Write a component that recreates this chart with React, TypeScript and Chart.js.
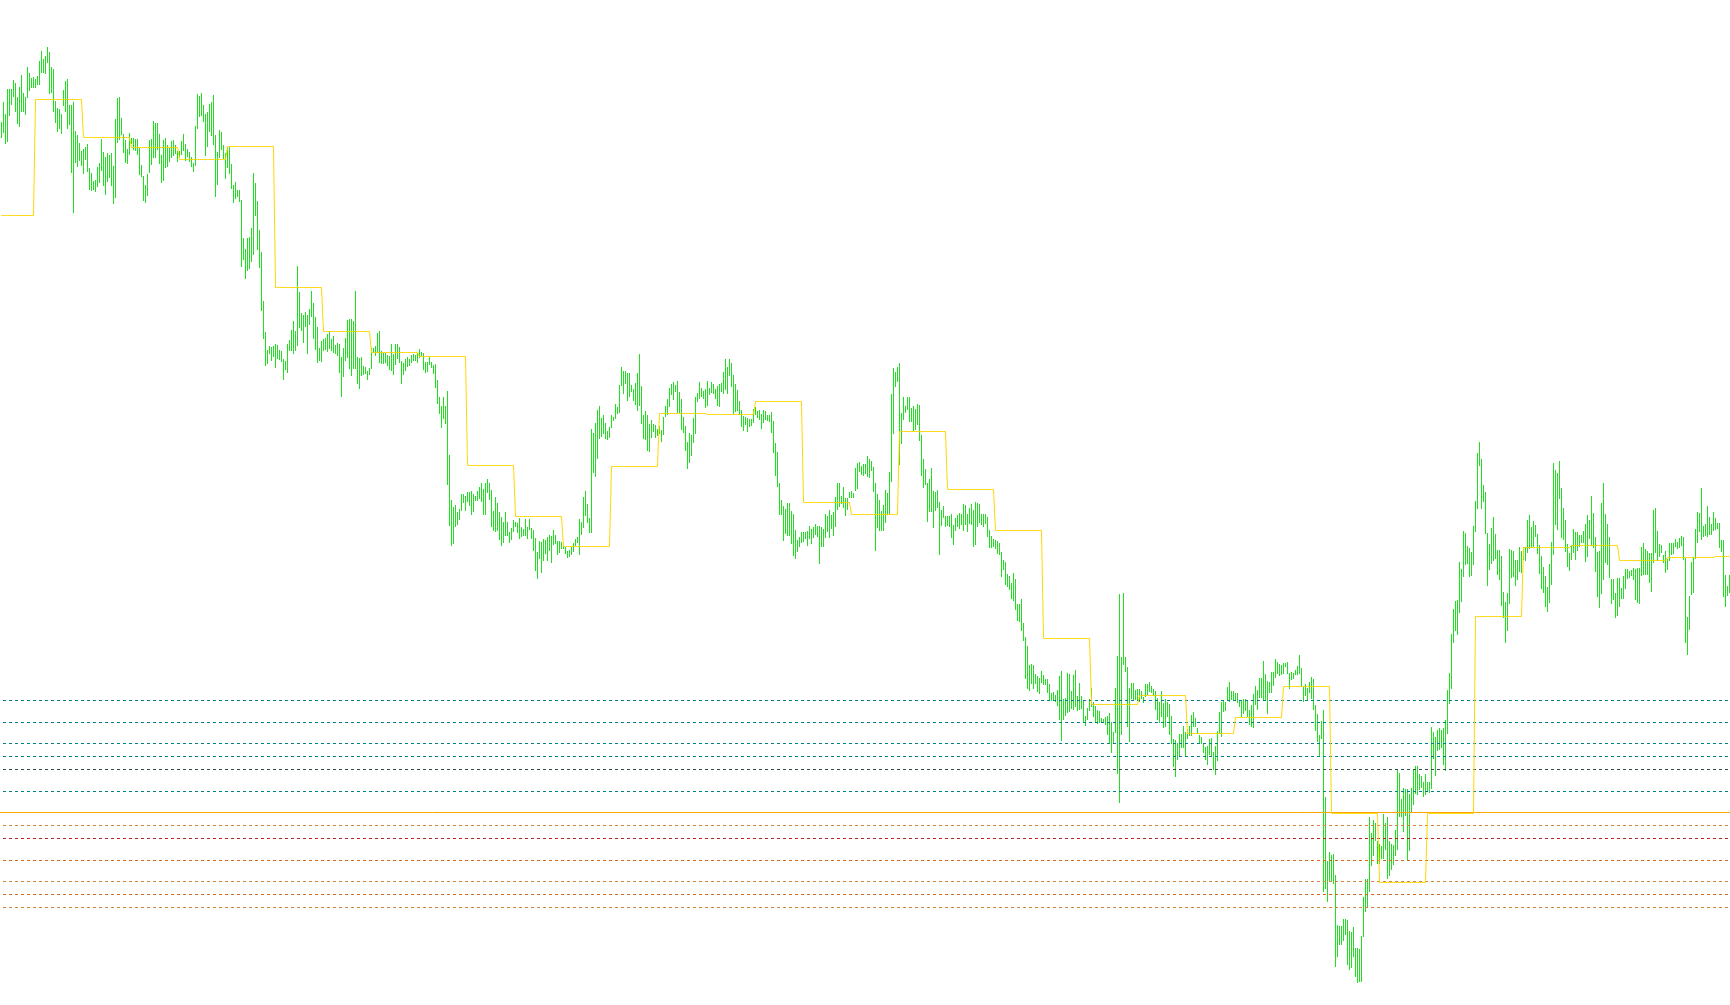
import React, { useEffect, useRef } from "react";
import { Chart, registerables } from "chart.js";

Chart.register(...registerables);

// Bar highs (price points), one per bar
const barHigh: number[] = [
  878,898,886,911,911,911,920,917,903,913,925,907,903,933,927,922,923,921,924,939,949,941,944,953,948,
  933,931,899,892,891,886,910,919,921,895,895,898,869,865,857,849,851,853,856,832,827,819,820,833,837,
  861,848,843,847,845,847,834,881,902,903,882,866,860,851,867,862,862,861,861,852,835,824,815,826,860,
  861,879,877,877,866,845,860,862,855,852,859,860,855,849,849,859,866,856,851,848,843,837,874,906,904,
  907,895,886,888,896,898,905,865,848,870,868,855,847,853,853,836,815,818,810,810,800,762,751,762,763,
  772,827,817,799,770,748,699,668,650,654,653,654,656,655,650,649,641,639,656,660,670,679,669,734,708,
  687,685,688,685,691,709,697,683,673,652,659,661,662,666,669,661,664,655,657,656,643,652,662,680,681,
  681,679,709,643,642,643,634,633,629,632,652,652,654,667,669,649,647,647,645,644,656,646,656,656,653,
  639,637,641,643,641,645,646,645,647,651,648,647,638,638,643,638,635,636,620,603,594,603,594,609,545,
  500,493,495,488,491,506,506,504,508,508,509,506,504,509,513,517,511,517,521,517,510,489,503,497,488,
  483,478,488,478,468,472,480,478,477,482,473,471,481,473,481,472,470,462,448,459,458,461,460,463,465,
  464,470,465,459,459,458,455,453,449,450,453,457,461,463,481,478,503,509,496,482,571,567,577,590,594,
  582,585,577,569,573,585,583,596,593,615,633,629,629,627,627,615,611,617,627,646,614,585,589,585,576,
  580,576,575,571,574,570,583,594,601,612,616,618,615,619,608,601,583,574,558,567,565,582,603,607,618,
  612,609,611,619,612,618,616,611,614,616,617,628,641,633,641,637,625,616,610,599,590,584,583,582,581,
  581,591,593,589,590,586,590,589,585,585,588,579,557,548,517,500,494,491,497,497,489,486,470,460,463,
  468,468,468,469,474,471,473,476,474,474,473,471,486,484,490,485,488,503,517,517,504,513,502,502,508,
  509,507,532,537,538,534,536,536,544,541,539,533,517,506,500,489,495,510,507,528,606,632,628,633,637,
  587,603,594,603,603,592,594,591,596,595,565,541,531,517,521,532,509,508,510,498,490,494,484,484,484,
  486,475,482,485,487,486,496,495,486,492,496,490,498,497,496,486,486,486,483,470,464,461,460,459,457,
  448,440,438,426,424,417,427,421,396,396,401,377,363,354,335,336,335,326,324,322,329,325,321,321,316,
  307,308,305,310,324,329,301,302,327,326,309,325,330,304,317,304,299,284,292,301,312,298,294,290,289,
  282,281,283,284,287,278,268,312,344,406,343,407,343,333,312,317,317,310,311,311,309,303,316,316,318,
  314,311,309,302,298,309,297,301,298,296,284,261,260,257,266,266,274,268,270,274,285,288,282,272,265,
  263,257,253,254,261,262,248,254,269,288,298,300,298,313,318,309,309,307,307,300,299,301,301,299,290,
  295,306,314,310,322,322,339,326,319,318,328,328,341,338,336,335,337,337,338,327,328,327,330,334,345,
  332,313,316,312,318,323,321,295,286,265,279,290,203,139,148,145,146,125,75,74,74,81,81,80,69,
  68,73,52,52,51,64,103,121,121,183,167,180,177,159,156,154,186,177,183,159,156,155,170,231,227,
  201,212,211,211,206,212,231,234,234,226,224,218,226,218,218,273,268,263,270,272,270,272,280,310,327,
  366,391,399,400,438,431,469,467,454,452,448,474,499,547,558,541,515,508,467,456,472,483,466,450,450,
  444,408,398,407,451,450,449,440,440,453,449,453,453,480,485,473,479,475,466,455,444,433,424,413,436,
  458,537,530,527,539,512,492,480,456,447,455,471,468,468,465,465,469,476,485,480,504,487,463,448,449,
  497,517,486,476,463,421,421,407,422,422,412,424,431,431,429,430,432,431,432,432,453,457,451,449,447,
  447,490,492,469,456,455,445,449,441,457,457,457,461,458,462,464,463,442,383,404,438,443,471,488,487,
  512,474,476,494,483,476,488,482,477,477,460,460,425,414,425,
];

// Bar lows (price points), one per bar
const barLow: number[] = [
  862,867,856,858,884,895,903,888,876,873,888,888,885,902,909,912,912,912,915,915,927,927,926,937,906,
  907,888,877,868,871,866,894,888,871,875,827,787,837,833,839,834,826,840,828,810,809,810,808,813,817,
  829,814,805,818,822,814,796,802,857,860,865,847,837,836,845,856,850,849,845,825,823,799,797,804,827,
  835,842,842,850,836,817,819,832,833,838,842,844,846,838,843,845,849,839,843,838,833,828,834,871,883,
  884,878,844,853,868,864,855,803,815,842,850,841,821,832,826,811,797,801,803,798,733,740,721,729,731,
  738,745,784,750,732,689,661,634,636,646,639,643,632,641,640,638,620,630,627,649,649,646,649,654,672,
  669,657,673,646,675,683,661,650,637,639,638,649,650,648,651,649,647,646,644,627,603,623,639,642,631,
  624,631,631,616,611,624,625,626,620,625,631,647,644,647,637,636,636,637,634,630,629,625,635,641,637,
  616,625,629,633,634,637,639,639,637,642,644,630,627,628,635,632,626,612,596,586,572,581,576,515,474,
  454,456,473,475,480,489,497,489,498,494,485,488,499,499,501,498,485,485,507,500,473,469,468,469,460,
  454,457,464,464,457,460,468,473,467,461,463,464,464,461,470,461,449,429,421,441,427,439,446,439,449,
  437,455,456,445,447,451,451,446,442,443,445,448,454,457,445,465,472,484,477,467,467,527,523,541,561,
  563,566,561,560,562,572,579,581,586,587,614,606,616,599,603,608,599,595,589,594,576,561,560,549,548,
  562,568,562,564,566,558,565,583,585,593,605,600,608,587,587,570,567,549,531,537,544,557,566,598,601,
  603,601,592,594,605,607,606,601,594,593,608,606,610,606,624,613,586,588,589,585,573,569,575,568,573,
  574,577,585,582,580,571,577,580,579,578,567,547,524,513,485,485,459,466,464,464,456,444,441,448,453,
  457,458,461,454,461,456,462,465,463,436,453,453,462,468,462,471,464,473,490,493,496,492,484,490,502,
  502,502,509,511,528,525,524,526,523,522,529,508,449,472,469,469,469,477,485,486,518,566,613,618,535,
  556,580,587,590,578,578,569,570,575,559,524,512,515,478,488,488,472,489,492,445,474,482,473,474,473,
  462,455,469,473,471,475,469,475,468,476,475,453,455,473,477,475,473,476,463,452,452,453,451,446,445,
  423,430,415,413,410,401,399,390,379,378,369,359,321,311,309,316,311,316,308,306,317,315,315,307,300,
  299,300,298,294,280,259,280,284,287,288,291,290,293,289,290,291,277,274,280,289,293,283,278,276,277,
  277,278,275,265,256,247,257,267,226,197,265,335,328,273,258,301,300,300,299,298,301,297,303,305,308,
  307,304,290,280,277,283,272,273,283,265,256,233,223,240,244,252,252,244,261,264,264,273,273,266,256,
  256,247,240,235,245,243,230,225,239,266,263,288,289,300,298,300,299,300,297,293,283,286,289,283,275,
  273,272,295,290,302,302,300,299,286,307,307,314,322,326,324,325,326,333,326,311,320,321,325,325,326,
  313,298,304,300,307,301,290,269,258,243,261,108,111,98,118,119,116,33,43,55,55,59,65,35,30,
  32,43,23,17,18,18,63,88,93,108,134,144,159,136,136,141,141,150,121,124,130,135,144,150,183,
  183,168,184,140,149,188,195,206,205,210,212,203,205,208,207,211,241,224,249,250,252,235,229,266,296,
  311,357,369,365,387,398,423,435,436,423,424,435,468,491,534,491,498,466,414,430,436,439,441,425,420,
  394,382,357,369,396,422,423,414,420,428,427,440,439,447,451,452,453,463,446,426,411,407,393,388,397,
  415,445,475,470,501,462,460,448,433,429,440,447,440,449,453,457,457,438,443,461,454,452,428,403,392,
  406,420,437,435,422,396,400,382,384,393,401,401,411,421,422,424,420,400,397,396,424,425,425,425,417,
  408,437,447,439,443,447,437,427,430,439,445,446,453,451,452,454,440,357,345,370,405,407,441,457,468,
  460,463,464,463,465,465,469,470,471,452,448,403,393,404,407,
];

// Higher-timeframe step level (yellow): first block covers 17 bars, then 24 bars each
const stepFirstBlock = 17;
const stepBlockBars = 24;
const stepLevels: number[] = [
  784.5, 900.5, 862.5, 852.5, 840.5, 853.5, 712.5, 668.5, 647.5, 643.5,
  534.5, 483.5, 453.5, 533.5, 586.5, 585.5, 598.5, 497.5, 485.5, 568.5,
  510.5, 469.5, 361.5, 295.5, 304.5, 266.5, 282.5, 313.5, 186.5, 117.5,
  186.5, 383.5, 452.5, 454.5, 439.5, 442.5, 443.5,
];

// Horizontal levels
const levelValues: number[] = [299.5, 277.5, 256.5, 243.5, 230.5, 208.5, 187.5, 174.5, 161.5, 139.5, 118.5, 105.5, 92.5];
const levelColors: string[] = [
  "#008080", "#008080", "#008080", "#008080", "#2F4F4F", "#008080",
  "#FFA500", "#CD853F", "#B22222", "#D2691E", "#CD853F", "#D2691E", "#CD853F",
];
const levelDashed: boolean[] = [true, true, true, true, true, true, false, true, true, true, true, true, true];

export default function App() {
  const ref = useRef<HTMLCanvasElement | null>(null);

  useEffect(() => {
    document.body.style.margin = "0";
    const canvas = ref.current;
    if (!canvas) return;
    const n = Math.min(barHigh.length, barLow.length);
    const xMin = -0.75;
    const xMax = n - 0.75;

    const bars = [];
    const step = [];
    for (let i = 0; i < n; i++) {
      bars.push({ x: i, y: [barLow[i], barHigh[i]] });
      const b = i < stepFirstBlock ? 0 : Math.floor((i - stepFirstBlock) / stepBlockBars) + 1;
      step.push({ x: i, y: stepLevels[Math.min(b, stepLevels.length - 1)] });
    }

    const levelSets = levelValues.map((v, k) => ({
      type: "line" as const,
      data: [{ x: xMin, y: v }, { x: xMax, y: v }],
      borderColor: levelColors[k],
      borderWidth: 1,
      borderDash: levelDashed[k] ? [3, 3] : [],
      borderDashOffset: 3,
      pointRadius: 0,
      pointHoverRadius: 0,
      fill: false,
      order: 2,
    }));

    const chart = new Chart(canvas, {
      type: "bar",
      data: {
        datasets: [
          {
            type: "bar",
            data: bars as any,
            backgroundColor: "#1EE01E",
            borderWidth: 0,
            barThickness: 1,
            inflateAmount: 0,
            order: 3,
          } as any,
          ...levelSets,
          {
            type: "line",
            data: step as any,
            borderColor: "#FFD700",
            borderWidth: 1,
            pointRadius: 0,
            pointHoverRadius: 0,
            tension: 0,
            fill: false,
            order: 1,
          } as any,
        ],
      },
      options: {
        animation: false,
        responsive: false,
        maintainAspectRatio: false,
        devicePixelRatio: 1,
        layout: { padding: 0, autoPadding: false },
        plugins: { legend: { display: false }, tooltip: { enabled: false } },
        events: [],
        scales: {
          x: { type: "linear", min: xMin, max: xMax, display: false, offset: false },
          y: { type: "linear", min: -5, max: 1000, display: false },
        },
      } as any,
    });
    return () => chart.destroy();
  }, []);

  return (
    <div style={{ width: 1730, height: 1005, background: "#ffffff" }}>
      <canvas ref={ref} width={1730} height={1005} style={{ display: "block", width: 1730, height: 1005 }} />
    </div>
  );
}
